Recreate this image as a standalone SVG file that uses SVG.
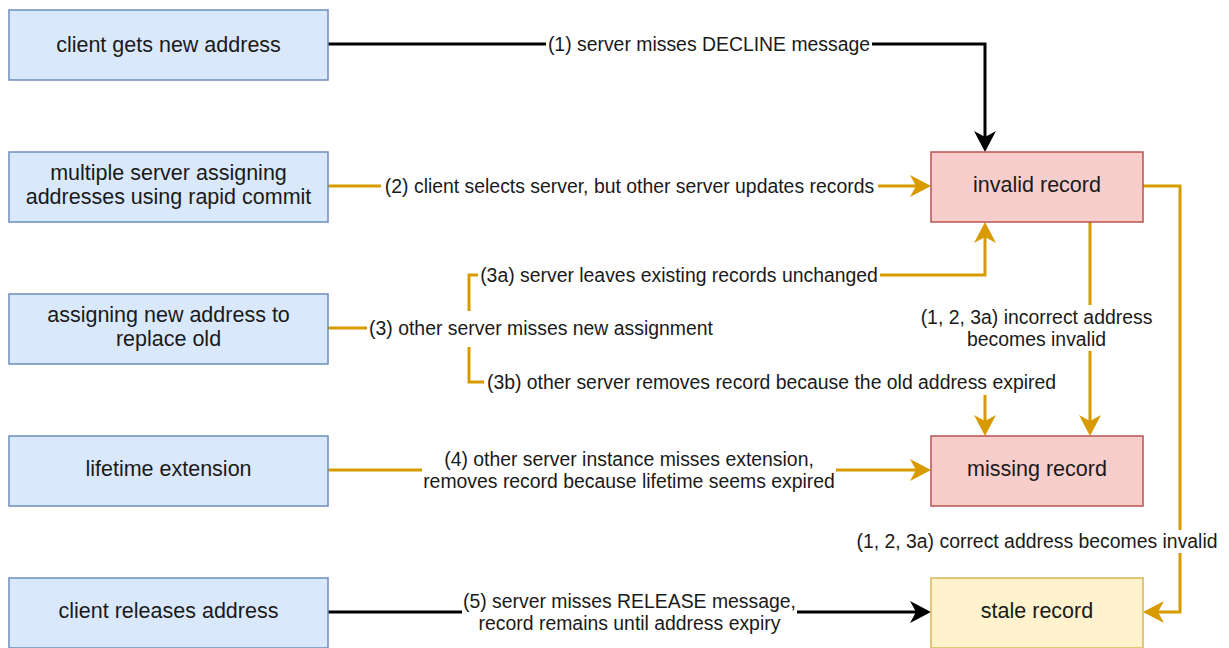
<svg xmlns="http://www.w3.org/2000/svg" width="1229" height="648" viewBox="0 0 1229 648">
<style>
.blue{fill:#dae8fc;stroke:#6c8ebf;stroke-width:1.5}
.red{fill:#f8cecc;stroke:#b85450;stroke-width:1.5}
.yel{fill:#fff2cc;stroke:#d6b656;stroke-width:1.5}
.nt{font-family:"Liberation Sans",Arial,sans-serif;font-size:21.5px;fill:#1a1a1a;text-anchor:middle}
.lt{font-family:"Liberation Sans",Arial,sans-serif;font-size:19.4px;fill:#1a1a1a;text-anchor:middle}
.bg{fill:#ffffff}
.eo{fill:none;stroke:#d79b00;stroke-width:3}
.ek{fill:none;stroke:#000000;stroke-width:3}
</style>
<defs>
<marker id="ao" markerUnits="userSpaceOnUse" markerWidth="22" markerHeight="22" viewBox="0 0 21 22" refX="15" refY="11" orient="auto">
<path d="M0,0 L21,11 L0,22 L6,11 Z" fill="#d79b00"/>
</marker>
<marker id="ak" markerUnits="userSpaceOnUse" markerWidth="22" markerHeight="22" viewBox="0 0 21 22" refX="15" refY="11" orient="auto">
<path d="M0,0 L21,11 L0,22 L6,11 Z" fill="#000000"/>
</marker>
</defs>

<g id="connectors">
<path class="ek" d="M328,44 H985 V146" marker-end="url(#ak)"/>
<path class="eo" d="M328,186 H925" marker-end="url(#ao)"/>
<path class="eo" d="M328,328 H367"/>
<path class="eo" d="M469,311 V275 H985 V228" marker-end="url(#ao)"/>
<path class="eo" d="M469,347 V382 H985 V430" marker-end="url(#ao)"/>
<path class="eo" d="M1090,222 V430" marker-end="url(#ao)"/>
<path class="eo" d="M1143,186 H1180 V612 H1149" marker-end="url(#ao)"/>
<path class="eo" d="M328,470 H925" marker-end="url(#ao)"/>
<path class="ek" d="M328,612 H925" marker-end="url(#ak)"/>

<g id="label1"><rect class="bg" x="546" y="33" width="326" height="22"/><text class="lt" x="709" y="51">(1) server misses DECLINE message</text></g>
<g id="label2"><rect class="bg" x="381" y="175" width="497" height="22"/><text class="lt" x="629.5" y="193">(2) client selects server, but other server updates records</text></g>
<g id="label3"><text class="lt" x="541" y="335">(3) other server misses new assignment</text></g>
<g id="label3a"><rect class="bg" x="478" y="264" width="402" height="22"/><text class="lt" x="679" y="282">(3a) server leaves existing records unchanged</text></g>
<g id="label3b"><rect class="bg" x="484" y="371" width="576" height="24"/><text class="lt" x="771.5" y="389">(3b) other server removes record because the old address expired</text></g>
<g id="label-incorrect"><rect class="bg" x="918" y="305" width="237" height="46"/><text class="lt" x="1036.5" y="324">(1, 2, 3a) incorrect address</text><text class="lt" x="1036.5" y="346">becomes invalid</text></g>
<g id="label-correct"><rect class="bg" x="855" y="530" width="364" height="23"/><text class="lt" x="1037" y="548">(1, 2, 3a) correct address becomes invalid</text></g>
<g id="label4"><rect class="bg" x="422" y="447" width="414" height="46"/><text class="lt" x="629" y="466">(4) other server instance misses extension,</text><text class="lt" x="629" y="488">removes record because lifetime seems expired</text></g>
<g id="label5"><rect class="bg" x="462" y="589" width="335" height="46"/><text class="lt" x="629.5" y="608">(5) server misses RELEASE message,</text><text class="lt" x="629.5" y="630">record remains until address expiry</text></g>
</g>

<g id="client-gets-new-address"><rect class="blue" x="9" y="10" width="319" height="70"/><text class="nt" x="168.5" y="52">client gets new address</text></g>
<g id="multiple-server"><rect class="blue" x="9" y="152" width="319" height="70"/><text class="nt" x="168.5" y="180">multiple server assigning</text><text class="nt" x="168.5" y="204">addresses using rapid commit</text></g>
<g id="assigning-new-address"><rect class="blue" x="9" y="294" width="319" height="70"/><text class="nt" x="168.5" y="322">assigning new address to</text><text class="nt" x="168.5" y="346">replace old</text></g>
<g id="lifetime-extension"><rect class="blue" x="9" y="436" width="319" height="70"/><text class="nt" x="168.5" y="476">lifetime extension</text></g>
<g id="client-releases-address"><rect class="blue" x="9" y="578" width="319" height="70"/><text class="nt" x="168.5" y="618">client releases address</text></g>
<g id="invalid-record"><rect class="red" x="931" y="152" width="212" height="70"/><text class="nt" x="1037" y="192">invalid record</text></g>
<g id="missing-record"><rect class="red" x="931" y="436" width="212" height="70"/><text class="nt" x="1037" y="476">missing record</text></g>
<g id="stale-record"><rect class="yel" x="931" y="578" width="212" height="70"/><text class="nt" x="1037" y="618">stale record</text></g>
</svg>
